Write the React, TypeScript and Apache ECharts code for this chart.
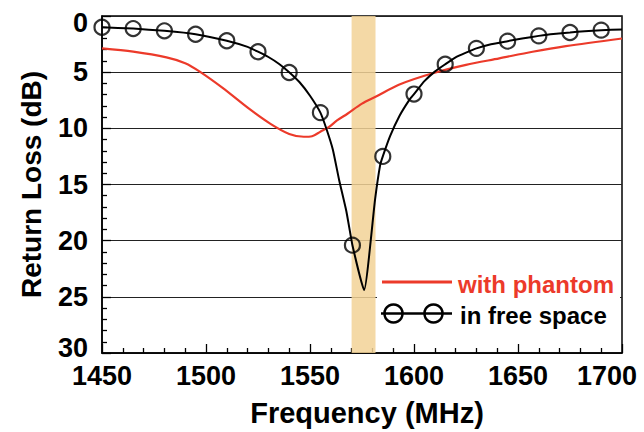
import React, { useEffect, useRef } from "react";
import * as echarts from "echarts";

// ---- data ----
const phantomFreq = [1450, 1465, 1481, 1490, 1497, 1508, 1521, 1531, 1540, 1547, 1551, 1555, 1559, 1563, 1568, 1575, 1582, 1593, 1609, 1625, 1641, 1657, 1673, 1700];
const phantomLoss = [2.88, 3.17, 3.68, 4.2, 4.95, 6.4, 8.3, 9.6, 10.5, 10.75, 10.7, 10.3, 9.9, 9.3, 8.7, 7.8, 7.15, 6.1, 5.1, 4.35, 3.77, 3.18, 2.68, 2.0];

const freeFreq = [1450, 1465, 1480, 1495, 1510, 1520, 1525, 1530, 1535, 1540, 1545, 1550, 1555, 1558, 1561, 1564, 1567.5, 1570.4, 1576, 1581.3, 1583.7, 1585, 1588.5, 1593, 1598, 1600, 1605, 1610, 1615, 1620, 1625, 1630, 1637, 1645, 1652, 1660, 1667, 1675, 1682, 1690, 1700];
const freeLoss = [1.0, 1.12, 1.32, 1.62, 2.2, 2.75, 3.18, 3.65, 4.25, 5.0, 5.9, 7.1, 8.6, 10.1, 11.9, 14.6, 17.4, 20.4, 24.4, 16.3, 13.3, 12.5, 10.7, 8.9, 7.4, 6.95, 5.8, 4.95, 4.3, 3.68, 3.26, 2.88, 2.52, 2.24, 2.0, 1.77, 1.6, 1.47, 1.35, 1.26, 1.2];

const markerFreq = [1450, 1465, 1480, 1495, 1510, 1525, 1540, 1555, 1570.4, 1585, 1600, 1615, 1630, 1645, 1660, 1675, 1690];
const markerLoss = [1.0, 1.12, 1.32, 1.62, 2.2, 3.18, 5.03, 8.6, 20.4, 12.5, 6.95, 4.3, 2.88, 2.24, 1.77, 1.47, 1.26];

const bandRange = [1570, 1581.5];

const xTicks = { min: 1450, max: 1700, interval: 50 };
const yTicks = { min: 0, max: 30, interval: 5 };

const seriesNames = ["with phantom", "in free space"];
const axisNames = { x: "Frequency (MHz)", y: "Return Loss (dB)" };

const FONT = "'Liberation Sans', Arial, Helvetica, sans-serif";
const RED = "#EC3A2A";

export default function App() {
  const ref = useRef<HTMLDivElement>(null);
  useEffect(() => {
    if (!ref.current) return;
    const chart = echarts.init(ref.current, undefined, { renderer: "svg" });
    const tickLine = { color: "#000", width: 1.3 };
    const labelStyle = { fontFamily: FONT, fontSize: 27, fontWeight: "bold" as const, color: "#000" };
    const nameStyle = { fontFamily: FONT, fontSize: 29, fontWeight: "bold" as const, color: "#000" };
    chart.setOption({
      animation: false,
      backgroundColor: "#fff",
      grid: { left: 102, right: 22, top: 16, bottom: 77, show: true, borderColor: "#000", borderWidth: 1.5 },
      xAxis: {
        type: "value",
        min: xTicks.min,
        max: xTicks.max,
        interval: xTicks.interval,
        name: axisNames.x,
        nameLocation: "middle",
        nameGap: 45,
        nameTextStyle: { ...nameStyle, padding: [0, 0, 0, 10] },
        axisLine: { show: true, onZero: false, lineStyle: { color: "#000", width: 1.5 } },
        axisTick: { show: true, inside: true, length: 9, lineStyle: tickLine },
        minorTick: { show: true, splitNumber: 5, length: 5, lineStyle: tickLine },
        axisLabel: {
          ...labelStyle,
          margin: 9,
          formatter: (v: number) => (v === xTicks.max ? "{r|" + v + "}" : String(v)),
          rich: { r: { ...labelStyle, padding: [0, 30, 0, 0] } },
        },
        splitLine: { show: false },
      },
      yAxis: {
        type: "value",
        inverse: true,
        min: yTicks.min,
        max: yTicks.max,
        interval: yTicks.interval,
        name: axisNames.y,
        nameLocation: "middle",
        nameGap: 57,
        nameRotate: 90,
        nameTextStyle: { ...nameStyle, fontSize: 28 },
        axisLine: { show: true, onZero: false, lineStyle: { color: "#000", width: 1.5 } },
        axisTick: { show: true, inside: true, length: 9, lineStyle: tickLine },
        minorTick: { show: true, splitNumber: 5, length: 5, lineStyle: tickLine },
        axisLabel: {
          ...labelStyle,
          margin: 14,
          formatter: (v: number) => (v === yTicks.min ? "{t|" + v + "}" : v === yTicks.max ? "{b|" + v + "}" : String(v)),
          rich: {
            t: { ...labelStyle, padding: [14, 0, 0, 0] },
            b: { ...labelStyle, padding: [0, 0, 10, 0] },
          },
        },
        splitLine: { show: true, lineStyle: { color: "#222", width: 1.2 } },
      },
      series: [
        {
          type: "line",
          name: "band",
          data: [],
          z: 1,
          silent: true,
          markArea: {
            silent: true,
            itemStyle: { color: "rgba(242, 210, 150, 0.85)" },
            data: [[{ xAxis: bandRange[0] }, { xAxis: bandRange[1] }]],
          },
        },
        {
          type: "line",
          name: seriesNames[0],
          z: 3,
          data: phantomFreq.map((f, i) => [f, phantomLoss[i]]),
          showSymbol: false,
          smooth: 0.3,
          lineStyle: { color: RED, width: 2.2 },
        },
        {
          type: "line",
          name: seriesNames[1],
          z: 4,
          data: freeFreq.map((f, i) => [f, freeLoss[i]]),
          showSymbol: false,
          smooth: 0.15,
          lineStyle: { color: "#000", width: 2 },
        },
        {
          type: "scatter",
          name: seriesNames[1] + " markers",
          z: 5,
          data: markerFreq.map((f, i) => [f, markerLoss[i]]),
          symbol: "circle",
          symbolSize: 15,
          itemStyle: { color: "rgba(0,0,0,0)", borderColor: "#000", borderWidth: 2.2 },
        },
      ],
      graphic: [
        { type: "rect", z: 50, shape: { x: 377, y: 263, width: 243, height: 70 }, style: { fill: "#fff" } },
        { type: "line", z: 51, shape: { x1: 382, y1: 282, x2: 452, y2: 282 }, style: { stroke: RED, lineWidth: 3 } },
        { type: "text", z: 51, x: 458, y: 284, style: { text: seriesNames[0], fill: RED, font: "bold 24px " + FONT, verticalAlign: "middle", align: "left" } },
        { type: "line", z: 51, shape: { x1: 381, y1: 313.5, x2: 452, y2: 313.5 }, style: { stroke: "#000", lineWidth: 2.5 } },
        { type: "circle", z: 52, shape: { cx: 393.5, cy: 313.5, r: 9 }, style: { fill: "rgba(0,0,0,0)", stroke: "#000", lineWidth: 2.5 } },
        { type: "circle", z: 52, shape: { cx: 433.5, cy: 313.5, r: 9 }, style: { fill: "rgba(0,0,0,0)", stroke: "#000", lineWidth: 2.5 } },
        { type: "text", z: 51, x: 460, y: 315, style: { text: seriesNames[1], fill: "#000", font: "bold 24px " + FONT, verticalAlign: "middle", align: "left" } },
      ],
    });
    return () => chart.dispose();
  }, []);
  return <div ref={ref} style={{ position: "fixed", left: 0, top: 0, width: 644, height: 432 }} />;
}
